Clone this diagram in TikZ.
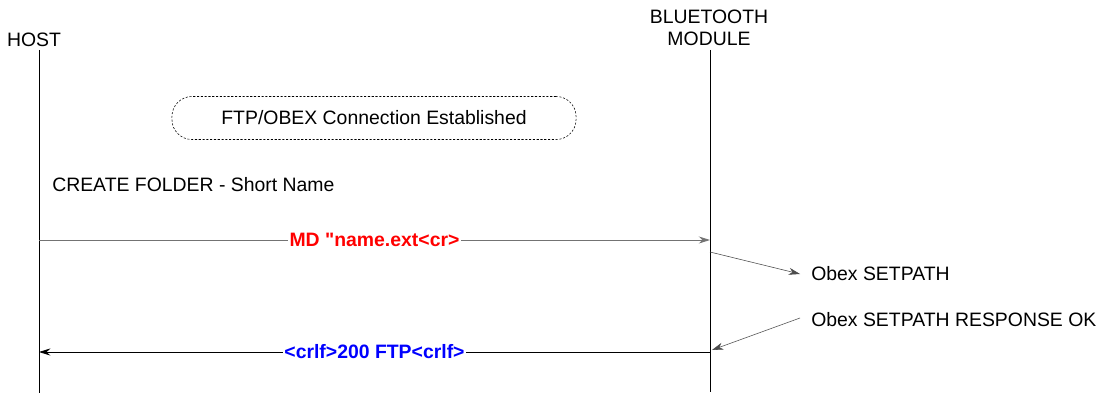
\documentclass[tikz,border=0pt]{standalone}
\usepackage{fontspec}
\setmainfont{Liberation Sans}[Ligatures=TeXOff]
\usetikzlibrary{arrows, arrows.meta}
\begin{document}
\begin{tikzpicture}[x=0.025cm, y=-0.025cm,
    lbl/.style={font=\fontsize{13.8}{16}\selectfont, inner sep=0pt},
    msglbl/.style={font=\fontsize{13.8}{16}\selectfont\bfseries, fill=white, inner sep=1pt},
    lifeline/.style={draw=black, line width=0.6pt},
    msg/.style={-{Stealth[length=8pt, width=5pt, inset=2.5pt]}, line width=0.6pt},
    note/.style={-{Stealth[length=8pt, width=5pt, inset=2.5pt]}, line width=0.4pt, draw=black!70}]
    % Frame:
    \useasboundingbox (0,0) rectangle (1116,394);
    % Lifelines:
    \node[lbl] (host) at (34,40){HOST};
    \node[lbl, align=center] (bt) at (709,28){BLUETOOTH\\MODULE};
    \coordinate (hostTop) at (39,50);
    \coordinate (hostBot) at (39,393);
    \coordinate (btTop) at (710,50);
    \coordinate (btBot) at (710,392);
    \draw[lifeline] (hostTop) -- (hostBot);
    \draw[lifeline] (btTop) -- (btBot);
    % Connection box and title:
    \node[lbl, draw, dash pattern=on 1.5pt off 1.2pt, line width=0.4pt, rounded corners=0.5cm, minimum width=10.1cm, minimum height=1.075cm](conn) at (374,118){FTP/OBEX Connection Established};
    \node[lbl, anchor=west](create) at (52,185){CREATE FOLDER - Short Name};
    % Messages:
    \coordinate (m1a) at (39,240);
    \coordinate (m1b) at (710,240);
    \draw[msg, draw=black!55] (m1a) -- (m1b) node[msglbl, text=red, midway]{MD "name.ext<cr>};
    \coordinate (m4a) at (710,352);
    \coordinate (m4b) at (39,352);
    \draw[msg] (m4a) -- (m4b) node[msglbl, text=blue, midway]{<crlf>200 FTP<crlf>};
    % Obex notes:
    \node[lbl, anchor=west](setpath) at (811,274){Obex SETPATH};
    \node[lbl, anchor=west](resp) at (811,320){Obex SETPATH RESPONSE OK};
    \coordinate (n1a) at (710,252);
    \coordinate (n1b) at (800,274);
    \coordinate (n2a) at (800,318);
    \coordinate (n2b) at (712,350);
    \draw[note] (n1a) -- (n1b);
    \draw[note] (n2a) -- (n2b);
\end{tikzpicture}
\end{document}
